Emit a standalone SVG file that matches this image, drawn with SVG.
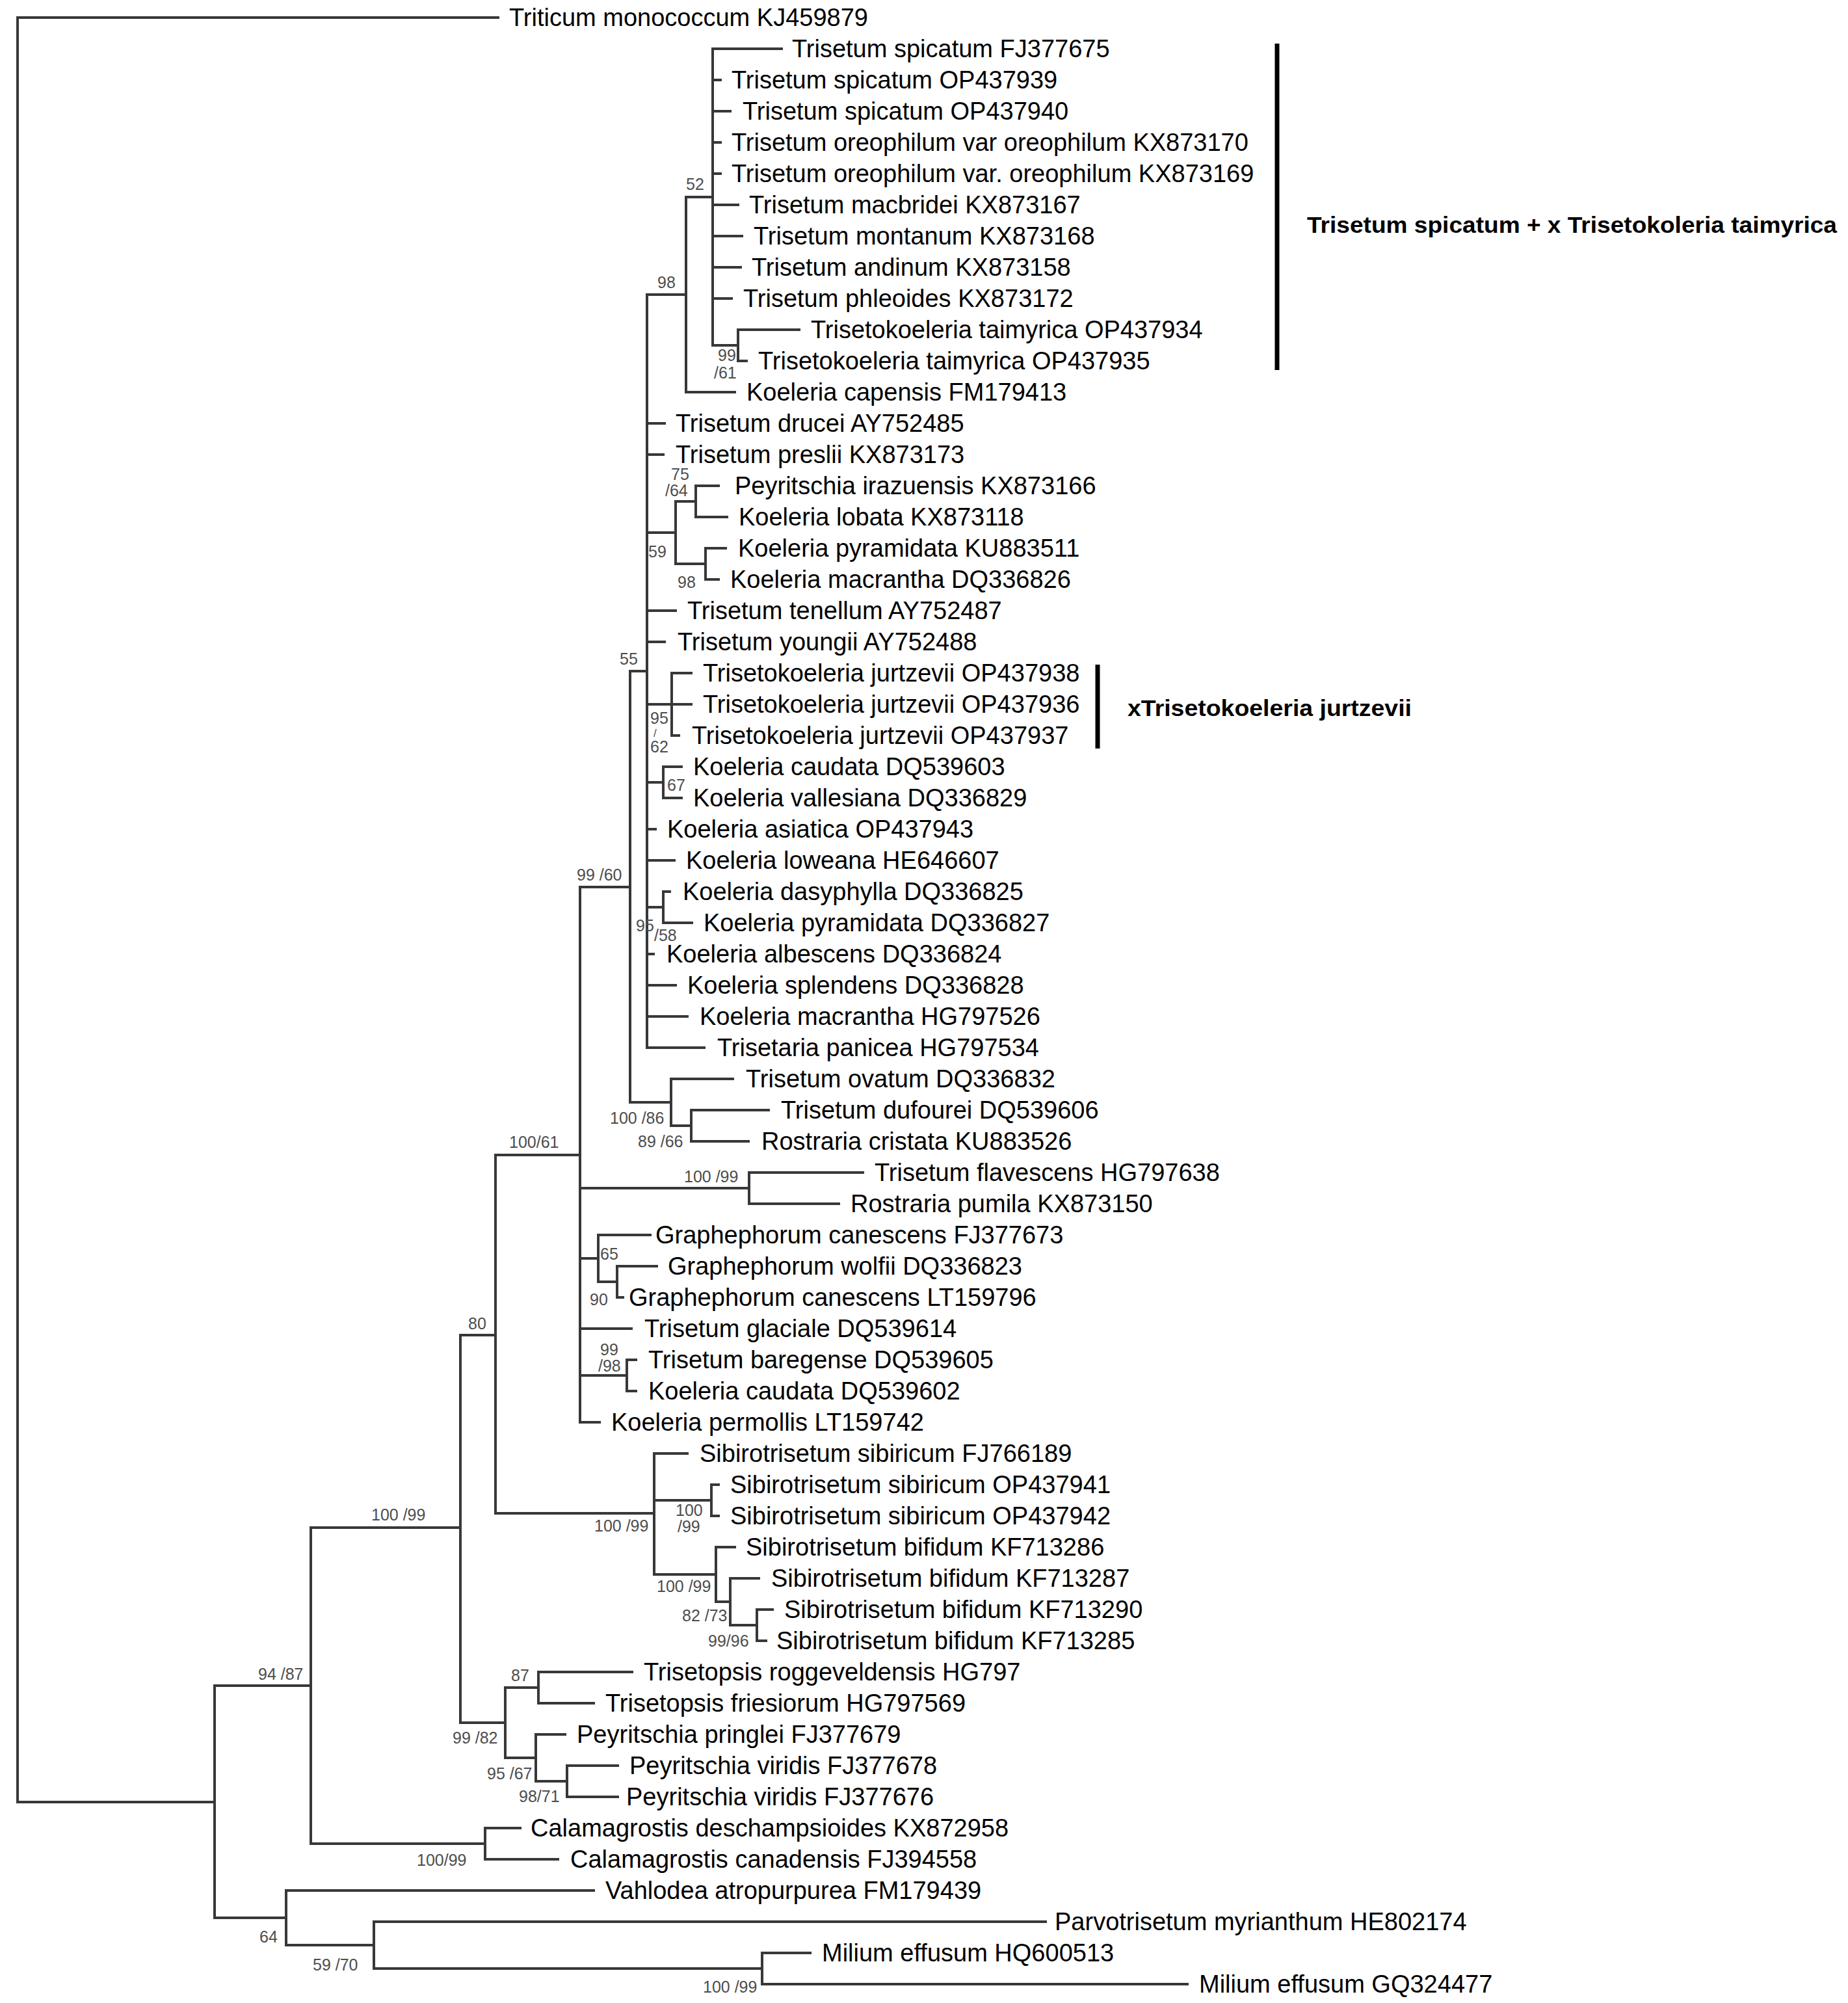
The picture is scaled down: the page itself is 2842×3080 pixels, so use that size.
<svg xmlns="http://www.w3.org/2000/svg" width="2842" height="3080" viewBox="0 0 2842 3080">
<style>
.br{fill:none;stroke:#383838;stroke-width:4;stroke-linecap:square}
.bar{stroke:#000;stroke-width:7}
.lf{font-family:"Liberation Sans",Arial,sans-serif;font-size:38px;fill:#000}
.bs{font-family:"Liberation Sans",Arial,sans-serif;font-size:25px;fill:#4d4d4d}
.sl{font-family:"Liberation Sans",Arial,sans-serif;font-size:17px;fill:#4d4d4d}
.bold{font-family:"Liberation Sans",Arial,sans-serif;font-size:35px;font-weight:bold;fill:#000}
</style>
<rect width="2842" height="3080" fill="#fff"/>
<g id="connectors">
<path class="br" d="M27,27V2771M27,27H766M27,2771H330"/>
<path class="br" d="M330,2592V2949M330,2592H478M330,2949H440"/>
<path class="br" d="M478,2349V2835M478,2349H708M478,2835H746"/>
<path class="br" d="M708,2053V2649M708,2053H762M708,2649H777"/>
<path class="br" d="M762,1776V2327M762,1776H892M762,2327H1006"/>
<path class="br" d="M892,1364V2187M892,1364H969M892,1827H1152M892,1935H920M892,2043H971M892,2115H964M892,2187H922"/>
<path class="br" d="M969,1032V1695M969,1032H995M969,1695H1032"/>
<path class="br" d="M995,453V1611M995,453H1055M995,651H1022M995,699H1020M995,819H1039M995,939H1039M995,987H1022M995,1083H1063M995,1203H1020M995,1275H1008M995,1323H1037M995,1395H1020M995,1467H1005M995,1515H1039M995,1563H1057M995,1611H1083"/>
<path class="br" d="M1055,303V603M1055,303H1096M1055,603H1130"/>
<path class="br" d="M1096,75V531M1096,75H1202M1096,123H1108M1096,171H1123M1096,219H1108M1096,267H1108M1096,315H1135M1096,363H1141M1096,411H1139M1096,459H1125M1096,531H1135"/>
<path class="br" d="M1135,507V555M1135,507H1229M1135,555H1148"/>
<path class="br" d="M1039,771V867M1039,771H1070M1039,867H1085"/>
<path class="br" d="M1070,747V795M1070,747H1105M1070,795H1118"/>
<path class="br" d="M1085,843V891M1085,843H1116M1085,891H1105"/>
<path class="br" d="M1033,1035V1131M1033,1035H1063M1033,1131H1044"/>
<path class="br" d="M1020,1179V1227M1020,1179H1048M1020,1227H1048"/>
<path class="br" d="M1020,1371V1419M1020,1371H1030M1020,1419H1064"/>
<path class="br" d="M1032,1659V1731M1032,1659H1127M1032,1731H1063"/>
<path class="br" d="M1063,1707V1755M1063,1707H1182M1063,1755H1151"/>
<path class="br" d="M1152,1803V1851M1152,1803H1327M1152,1851H1290"/>
<path class="br" d="M920,1899V1971M920,1899H1000M920,1971H949"/>
<path class="br" d="M949,1947V1995M949,1947H1010M949,1995H958"/>
<path class="br" d="M964,2091V2139M964,2091H978M964,2139H978"/>
<path class="br" d="M1006,2235V2421M1006,2235H1057M1006,2307H1094M1006,2421H1101"/>
<path class="br" d="M1094,2283V2331M1094,2283H1105M1094,2331H1105"/>
<path class="br" d="M1101,2379V2463M1101,2379H1130M1101,2463H1123"/>
<path class="br" d="M1123,2427V2499M1123,2427H1167M1123,2499H1164"/>
<path class="br" d="M1164,2475V2523M1164,2475H1188M1164,2523H1178"/>
<path class="br" d="M777,2595V2703M777,2595H828M777,2703H824"/>
<path class="br" d="M828,2571V2619M828,2571H972M828,2619H913"/>
<path class="br" d="M824,2667V2739M824,2667H869M824,2739H872"/>
<path class="br" d="M872,2715V2763M872,2715H950M872,2763H950"/>
<path class="br" d="M746,2811V2859M746,2811H800M746,2859H858"/>
<path class="br" d="M440,2907V2991M440,2907H913M440,2991H575"/>
<path class="br" d="M575,2955V3027M575,2955H1608M575,3027H1172"/>
<path class="br" d="M1172,3003V3051M1172,3003H1246M1172,3051H1826"/>
</g>
<g id="leaves">
<g id="n1"><text class="lf" x="783" y="40">Triticum monococcum KJ459879</text></g>
<g id="n2"><text class="lf" x="1218" y="88">Trisetum spicatum FJ377675</text></g>
<g id="n3"><text class="lf" x="1125" y="136">Trisetum spicatum OP437939</text></g>
<g id="n4"><text class="lf" x="1142" y="184">Trisetum spicatum OP437940</text></g>
<g id="n5"><text class="lf" x="1125" y="232">Trisetum oreophilum var oreophilum KX873170</text></g>
<g id="n6"><text class="lf" x="1125" y="280">Trisetum oreophilum var. oreophilum KX873169</text></g>
<g id="n7"><text class="lf" x="1152" y="328">Trisetum macbridei KX873167</text></g>
<g id="n8"><text class="lf" x="1159" y="376">Trisetum montanum KX873168</text></g>
<g id="n9"><text class="lf" x="1156" y="424">Trisetum andinum KX873158</text></g>
<g id="n10"><text class="lf" x="1143" y="472">Trisetum phleoides KX873172</text></g>
<g id="n11"><text class="lf" x="1247" y="520">Trisetokoeleria taimyrica OP437934</text></g>
<g id="n12"><text class="lf" x="1166" y="568">Trisetokoeleria taimyrica OP437935</text></g>
<g id="n13"><text class="lf" x="1148" y="616">Koeleria capensis FM179413</text></g>
<g id="n14"><text class="lf" x="1039" y="664">Trisetum drucei AY752485</text></g>
<g id="n15"><text class="lf" x="1039" y="712">Trisetum preslii KX873173</text></g>
<g id="n16"><text class="lf" x="1130" y="760">Peyritschia irazuensis KX873166</text></g>
<g id="n17"><text class="lf" x="1136" y="808">Koeleria lobata KX873118</text></g>
<g id="n18"><text class="lf" x="1135" y="856">Koeleria pyramidata KU883511</text></g>
<g id="n19"><text class="lf" x="1123" y="904">Koeleria macrantha DQ336826</text></g>
<g id="n20"><text class="lf" x="1057" y="952">Trisetum tenellum AY752487</text></g>
<g id="n21"><text class="lf" x="1042" y="1000">Trisetum youngii AY752488</text></g>
<g id="n22"><text class="lf" x="1081" y="1048">Trisetokoeleria jurtzevii OP437938</text></g>
<g id="n23"><text class="lf" x="1081" y="1096">Trisetokoeleria jurtzevii OP437936</text></g>
<g id="n24"><text class="lf" x="1064" y="1144">Trisetokoeleria jurtzevii OP437937</text></g>
<g id="n25"><text class="lf" x="1066" y="1192">Koeleria caudata DQ539603</text></g>
<g id="n26"><text class="lf" x="1066" y="1240">Koeleria vallesiana DQ336829</text></g>
<g id="n27"><text class="lf" x="1026" y="1288">Koeleria asiatica OP437943</text></g>
<g id="n28"><text class="lf" x="1055" y="1336">Koeleria loweana HE646607</text></g>
<g id="n29"><text class="lf" x="1050" y="1384">Koeleria dasyphylla DQ336825</text></g>
<g id="n30"><text class="lf" x="1082" y="1432">Koeleria pyramidata DQ336827</text></g>
<g id="n31"><text class="lf" x="1025" y="1480">Koeleria albescens DQ336824</text></g>
<g id="n32"><text class="lf" x="1057" y="1528">Koeleria splendens DQ336828</text></g>
<g id="n33"><text class="lf" x="1076" y="1576">Koeleria macrantha HG797526</text></g>
<g id="n34"><text class="lf" x="1103" y="1624">Trisetaria panicea HG797534</text></g>
<g id="n35"><text class="lf" x="1147" y="1672">Trisetum ovatum DQ336832</text></g>
<g id="n36"><text class="lf" x="1201" y="1720">Trisetum dufourei DQ539606</text></g>
<g id="n37"><text class="lf" x="1171" y="1768">Rostraria cristata KU883526</text></g>
<g id="n38"><text class="lf" x="1345" y="1816">Trisetum flavescens HG797638</text></g>
<g id="n39"><text class="lf" x="1308" y="1864">Rostraria pumila KX873150</text></g>
<g id="n40"><text class="lf" x="1008" y="1912">Graphephorum canescens FJ377673</text></g>
<g id="n41"><text class="lf" x="1027" y="1960">Graphephorum wolfii DQ336823</text></g>
<g id="n42"><text class="lf" x="967" y="2008">Graphephorum canescens LT159796</text></g>
<g id="n43"><text class="lf" x="991" y="2056">Trisetum glaciale DQ539614</text></g>
<g id="n44"><text class="lf" x="997" y="2104">Trisetum baregense DQ539605</text></g>
<g id="n45"><text class="lf" x="997" y="2152">Koeleria caudata DQ539602</text></g>
<g id="n46"><text class="lf" x="940" y="2200">Koeleria permollis LT159742</text></g>
<g id="n47"><text class="lf" x="1076" y="2248">Sibirotrisetum sibiricum FJ766189</text></g>
<g id="n48"><text class="lf" x="1123" y="2296">Sibirotrisetum sibiricum OP437941</text></g>
<g id="n49"><text class="lf" x="1123" y="2344">Sibirotrisetum sibiricum OP437942</text></g>
<g id="n50"><text class="lf" x="1147" y="2392">Sibirotrisetum bifidum KF713286</text></g>
<g id="n51"><text class="lf" x="1186" y="2440">Sibirotrisetum bifidum KF713287</text></g>
<g id="n52"><text class="lf" x="1206" y="2488">Sibirotrisetum bifidum KF713290</text></g>
<g id="n53"><text class="lf" x="1194" y="2536">Sibirotrisetum bifidum KF713285</text></g>
<g id="n54"><text class="lf" x="990" y="2584">Trisetopsis roggeveldensis HG797</text></g>
<g id="n55"><text class="lf" x="931" y="2632">Trisetopsis friesiorum HG797569</text></g>
<g id="n56"><text class="lf" x="887" y="2680">Peyritschia pringlei FJ377679</text></g>
<g id="n57"><text class="lf" x="968" y="2728">Peyritschia viridis FJ377678</text></g>
<g id="n58"><text class="lf" x="963" y="2776">Peyritschia viridis FJ377676</text></g>
<g id="n59"><text class="lf" x="816" y="2824">Calamagrostis deschampsioides KX872958</text></g>
<g id="n60"><text class="lf" x="877" y="2872">Calamagrostis canadensis FJ394558</text></g>
<g id="n61"><text class="lf" x="931" y="2920">Vahlodea atropurpurea FM179439</text></g>
<g id="n62"><text class="lf" x="1622" y="2968">Parvotrisetum myrianthum HE802174</text></g>
<g id="n63"><text class="lf" x="1264" y="3016">Milium effusum HQ600513</text></g>
<g id="n64"><text class="lf" x="1844" y="3064">Milium effusum GQ324477</text></g>
</g>
<g id="support">
<text class="bs" x="1055" y="292">52</text>
<text class="bs" x="1011" y="443">98</text>
<text class="bs" x="1104" y="555">99</text>
<text class="bs" x="1098" y="582">/61</text>
<text class="bs" x="1032" y="738">75</text>
<text class="bs" x="1023" y="763">/64</text>
<text class="bs" x="997" y="857">59</text>
<text class="bs" x="1042" y="904">98</text>
<text class="bs" x="953" y="1022">55</text>
<text class="bs" x="1000" y="1113">95</text>
<text class="sl" x="1005" y="1133">/</text>
<text class="bs" x="1000" y="1157">62</text>
<text class="bs" x="1026" y="1216">67</text>
<text class="bs" x="978" y="1432">95</text>
<text class="bs" x="1006" y="1447">/58</text>
<text class="bs" x="887" y="1354">99 /60</text>
<text class="bs" x="938" y="1728">100 /86</text>
<text class="bs" x="981" y="1764">89 /66</text>
<text class="bs" x="1052" y="1818">100 /99</text>
<text class="bs" x="783" y="1765">100/61</text>
<text class="bs" x="923" y="1937">65</text>
<text class="bs" x="907" y="2007">90</text>
<text class="bs" x="923" y="2084">99</text>
<text class="bs" x="920" y="2109">/98</text>
<text class="bs" x="720" y="2044">80</text>
<text class="bs" x="571" y="2338">100 /99</text>
<text class="bs" x="1039" y="2331">100</text>
<text class="bs" x="1042" y="2356">/99</text>
<text class="bs" x="914" y="2355">100 /99</text>
<text class="bs" x="1010" y="2448">100 /99</text>
<text class="bs" x="1049" y="2493">82 /73</text>
<text class="bs" x="1089" y="2532">99/96</text>
<text class="bs" x="786" y="2585">87</text>
<text class="bs" x="696" y="2681">99 /82</text>
<text class="bs" x="749" y="2736">95 /67</text>
<text class="bs" x="798" y="2771">98/71</text>
<text class="bs" x="641" y="2869">100/99</text>
<text class="bs" x="397" y="2583">94 /87</text>
<text class="bs" x="399" y="2987">64</text>
<text class="bs" x="481" y="3030">59 /70</text>
<text class="bs" x="1081" y="3064">100 /99</text>
</g>
<g id="clade-spicatum">
<line class="bar" x1="1964" y1="67" x2="1964" y2="569"/>
<text class="bold" x="2010" y="358" textLength="815" lengthAdjust="spacingAndGlyphs">Trisetum spicatum + x Trisetokoleria taimyrica</text>
</g>
<g id="clade-jurtzevii">
<line class="bar" x1="1688" y1="1022" x2="1688" y2="1151"/>
<text class="bold" x="1734" y="1101" textLength="437" lengthAdjust="spacingAndGlyphs">xTrisetokoeleria jurtzevii</text>
</g>
</svg>
